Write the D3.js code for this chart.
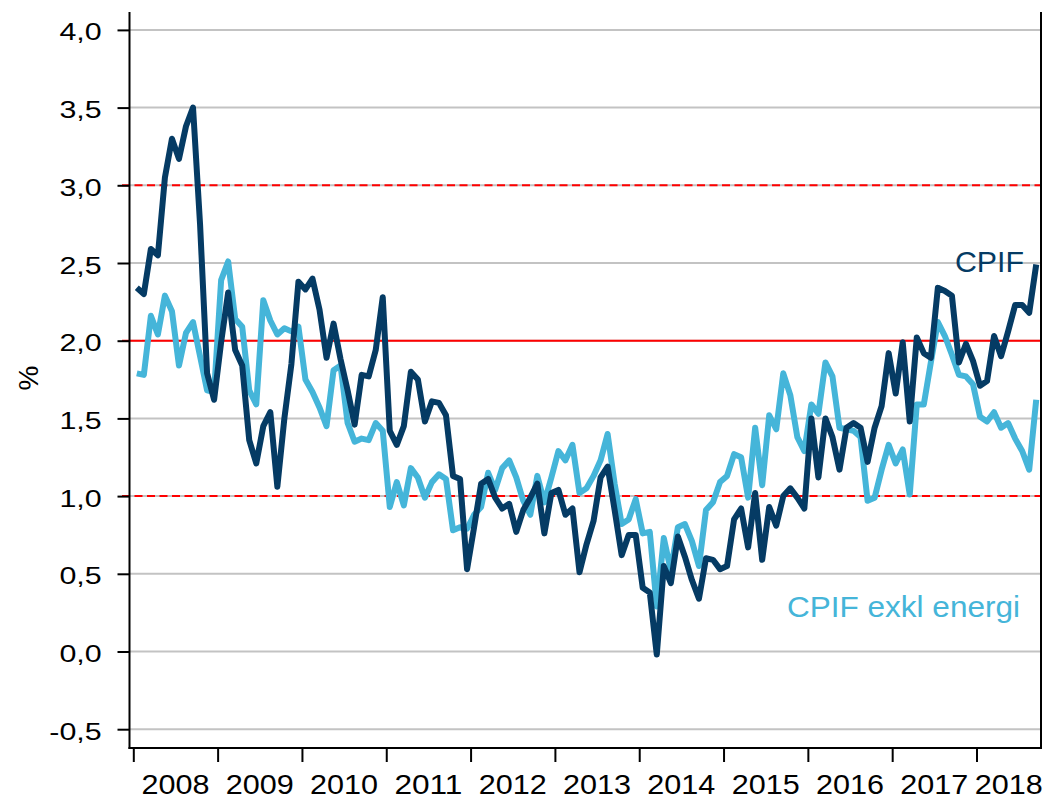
<!DOCTYPE html>
<html>
<head>
<meta charset="utf-8">
<script src="https://cdn.jsdelivr.net/npm/d3@7"></script>
<style>
  html, body { margin: 0; padding: 0; background: #fff; }
  svg { display: block; font-family: "Liberation Sans", Arial, sans-serif; }
</style>
</head>
<body>
<svg id="chart" width="1056" height="799"></svg>
<script>
// Monthly data, Jan 2008 – Sep 2018 (annual % change)
const years = ["2008","2009","2010","2011","2012","2013","2014","2015","2016","2017","2018"];
const yTicks = [-0.5, 0, 0.5, 1, 1.5, 2, 2.5, 3, 3.5, 4];
const cpif = [
  2.34, 2.30, 2.59, 2.55, 3.05, 3.30, 3.17, 3.38, 3.50, 2.75, 1.79, 1.62,
  1.99, 2.31, 1.94, 1.84, 1.36, 1.21, 1.45, 1.54, 1.06, 1.50, 1.85, 2.38,
  2.33, 2.40, 2.20, 1.89, 2.11, 1.88, 1.68, 1.46, 1.78, 1.77, 1.94, 2.28,
  1.42, 1.33, 1.45, 1.80, 1.75, 1.48, 1.61, 1.60, 1.52, 1.13, 1.11, 0.53,
  0.80, 1.08, 1.11, 0.99, 0.92, 0.95, 0.77, 0.91, 0.99, 1.08, 0.76, 1.02,
  1.04, 0.88, 0.92, 0.51, 0.69, 0.84, 1.12, 1.19, 0.91, 0.62, 0.75, 0.75,
  0.41, 0.38, -0.02, 0.55, 0.44, 0.74, 0.61, 0.46, 0.34, 0.60, 0.59, 0.53,
  0.55, 0.85, 0.92, 0.67, 1.02, 0.59, 0.93, 0.81, 1.00, 1.05, 0.99, 0.92,
  1.50, 1.12, 1.50, 1.38, 1.17, 1.44, 1.47, 1.44, 1.22, 1.44, 1.58, 1.92,
  1.66, 1.99, 1.48, 2.02, 1.92, 1.89, 2.34, 2.32, 2.29, 1.86, 1.98, 1.87,
  1.71, 1.74, 2.03, 1.90, 2.06, 2.23, 2.23, 2.18, 2.49
];
const cpifExEnergy = [
  1.79, 1.78, 2.16, 2.04, 2.29, 2.19, 1.84, 2.05, 2.12, 1.90, 1.68, 1.67,
  2.39, 2.51, 2.14, 2.09, 1.68, 1.59, 2.26, 2.13, 2.04, 2.08, 2.06, 2.09,
  1.75, 1.67, 1.57, 1.45, 1.81, 1.84, 1.47, 1.35, 1.37, 1.36, 1.47, 1.42,
  0.93, 1.09, 0.94, 1.18, 1.12, 0.99, 1.09, 1.14, 1.11, 0.78, 0.80, 0.79,
  0.88, 0.93, 1.15, 1.04, 1.18, 1.23, 1.12, 0.97, 0.88, 1.13, 0.96, 1.12,
  1.29, 1.23, 1.33, 1.02, 1.05, 1.13, 1.23, 1.40, 1.08, 0.82, 0.85, 0.98,
  0.76, 0.77, 0.29, 0.73, 0.52, 0.80, 0.82, 0.71, 0.55, 0.91, 0.96, 1.09,
  1.13, 1.27, 1.25, 0.99, 1.44, 1.07, 1.52, 1.43, 1.79, 1.65, 1.38, 1.29,
  1.59, 1.53, 1.86, 1.77, 1.44, 1.43, 1.42, 1.38, 0.97, 0.99, 1.17, 1.33,
  1.21, 1.30, 1.01, 1.59, 1.59, 1.86, 2.12, 2.03, 1.91, 1.78, 1.77, 1.72,
  1.51, 1.48, 1.54, 1.44, 1.47, 1.37, 1.29, 1.17, 1.62
];
const seriesNames = ["CPIF", "CPIF exkl energi"];
const refDashed = [1, 3];
const refSolid = [2];

const darkColor = "#053b64";
const lightColor = "#45b5d9";

const svg = d3.select("#chart");
const pLeft = 129.5, pRight = 1041, pTop = 12, pBottom = 748;

const x = d3.scaleLinear().domain([0, 120]).range([133.3, 976.5]); // months since Jan 2008
const y = d3.scaleLinear().domain([-0.5, 4.0]).range([729.2, 29.9]);

// grey gridlines
svg.append("g").selectAll("line").data(yTicks).join("line")
  .attr("x1", pLeft).attr("x2", pRight)
  .attr("y1", d => y(d)).attr("y2", d => y(d))
  .attr("stroke", "#c3c3c3").attr("stroke-width", 2);

// red reference lines
svg.append("g").selectAll("line").data(refDashed).join("line")
  .attr("x1", 122).attr("x2", pRight)
  .attr("y1", d => y(d)).attr("y2", d => y(d))
  .attr("stroke", "#ff0000").attr("stroke-width", 2)
  .attr("stroke-dasharray", "8,4.5");
svg.append("g").selectAll("line").data(refSolid).join("line")
  .attr("x1", 122).attr("x2", pRight)
  .attr("y1", d => y(d)).attr("y2", d => y(d))
  .attr("stroke", "#ff0000").attr("stroke-width", 2);

// y axis ticks
const yAxis = d3.axisLeft(y).tickValues(yTicks).tickSize(12).tickFormat("");
const gy = svg.append("g").attr("transform", `translate(${pLeft},0)`).call(yAxis);
gy.select(".domain").remove();
gy.selectAll(".tick line").attr("stroke", "#000").attr("stroke-width", 2);

// y tick labels (stretched like the original)
const fmt = d => d3.format(".1f")(d).replace(".", ",").replace("−", "-");
const yl = svg.append("g").selectAll("text").data(yTicks).join("text")
  .attr("y", d => y(d) + 10.5)
  .attr("font-size", 24.7)
  .attr("fill", "#000")
  .text(fmt);
yl.each(function() {
  const w = this.getComputedTextLength() * 1.23;
  d3.select(this).attr("textLength", w).attr("lengthAdjust", "spacingAndGlyphs")
    .attr("x", 101.7 - w);
});

// x axis ticks
const xAxis = d3.axisBottom(x).tickValues(d3.range(0, 121, 12)).tickSize(13).tickFormat("");
const gx = svg.append("g").attr("transform", `translate(0,${pBottom + 1})`).call(xAxis);
gx.select(".domain").remove();
gx.selectAll(".tick line").attr("stroke", "#000").attr("stroke-width", 2);

// x labels centered in each year interval
const xRightMonth = x.invert(pRight);
svg.append("g").selectAll("text").data(years).join("text")
  .attr("x", (d, i) => (x(i * 12) + x(Math.min((i + 1) * 12, xRightMonth))) / 2)
  .attr("y", 794)
  .attr("text-anchor", "middle")
  .attr("font-size", 27)
  .attr("fill", "#000")
  .attr("textLength", 68)
  .attr("lengthAdjust", "spacingAndGlyphs")
  .text(d => d);

// frame
svg.append("line").attr("x1", pLeft).attr("x2", pLeft).attr("y1", pTop).attr("y2", pBottom + 1)
  .attr("stroke", "#000").attr("stroke-width", 2);
svg.append("line").attr("x1", pRight).attr("x2", pRight).attr("y1", pTop).attr("y2", pBottom + 1)
  .attr("stroke", "#000").attr("stroke-width", 2);
svg.append("line").attr("x1", pLeft - 1).attr("x2", pRight + 1).attr("y1", pBottom).attr("y2", pBottom)
  .attr("stroke", "#000").attr("stroke-width", 2);

// lines
const line = d3.line().x((d, i) => x(i + 0.5)).y(d => y(d));
svg.append("path").datum(cpifExEnergy)
  .attr("d", line).attr("fill", "none")
  .attr("stroke", lightColor).attr("stroke-width", 6)
  .attr("stroke-linejoin", "round");
svg.append("path").datum(cpif)
  .attr("d", line).attr("fill", "none")
  .attr("stroke", darkColor).attr("stroke-width", 6)
  .attr("stroke-linejoin", "round");

// series labels
svg.append("text").attr("x", 955).attr("y", 272).attr("font-size", 29)
  .attr("fill", darkColor).attr("textLength", 69).attr("lengthAdjust", "spacingAndGlyphs")
  .text(seriesNames[0]);
svg.append("text").attr("x", 787).attr("y", 617).attr("font-size", 29)
  .attr("fill", lightColor).attr("textLength", 233).attr("lengthAdjust", "spacingAndGlyphs")
  .text(seriesNames[1]);

// y axis title
svg.append("text").attr("transform", "translate(38,378) rotate(-90)")
  .attr("text-anchor", "middle").attr("font-size", 28).attr("fill", "#000")
  .text("%");
</script>
</body>
</html>
